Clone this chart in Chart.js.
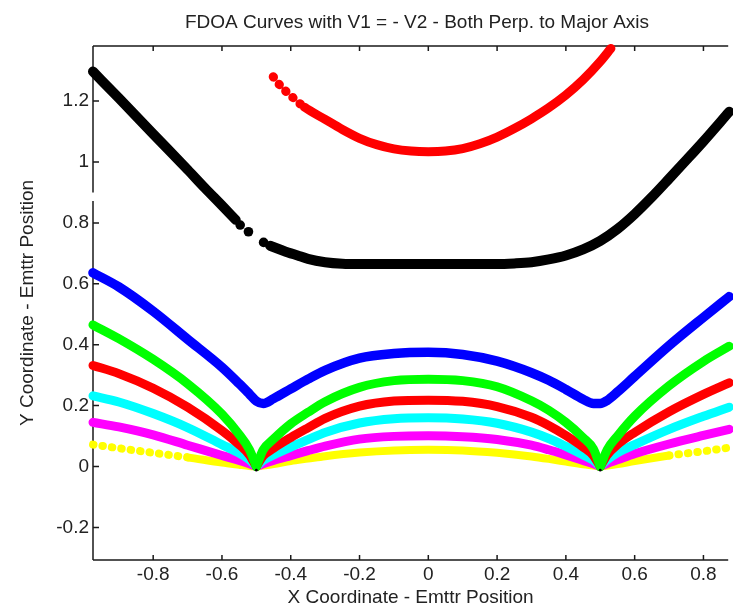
<!DOCTYPE html>
<html>
<head>
<meta charset="utf-8">
<script src="https://cdn.jsdelivr.net/npm/chart.js@4.4.1/dist/chart.umd.min.js"></script>
<style>
  html, body { margin: 0; padding: 0; background: #fff; }
</style>
</head>
<body>
<canvas id="fdoa" width="733" height="611"></canvas>
<script>
const chartTitle = 'FDOA Curves with V1 = - V2 - Both Perp. to Major Axis';
const xTitle = 'X Coordinate - Emttr Position';
const yTitle = 'Y Coordinate - Emttr Position';

const xTickValues = [-0.8, -0.6, -0.4, -0.2, 0, 0.2, 0.4, 0.6, 0.8];
const yTickValues = [-0.2, 0, 0.2, 0.4, 0.6, 0.8, 1, 1.2];

// x positions shared by the six lower curves (cusps at index 7 and 23)
const xLow = [-0.975, -0.9, -0.8, -0.7, -0.6, -0.55, -0.52, -0.5, -0.48, -0.45, -0.4, -0.35, -0.3, -0.2, -0.1,
              0, 0.1, 0.2, 0.3, 0.35, 0.4, 0.45, 0.48, 0.5, 0.52, 0.55, 0.6, 0.7, 0.8, 0.875];
const blueY    = [0.636, 0.59, 0.51, 0.418, 0.326, 0.272, 0.238, 0.215, 0.207, 0.223, 0.255, 0.287, 0.316, 0.356, 0.371,
                  0.375, 0.368, 0.346, 0.308, 0.283, 0.253, 0.221, 0.207, 0.207, 0.217, 0.245, 0.296, 0.397, 0.49, 0.558];
const greenY   = [0.465, 0.42, 0.352, 0.272, 0.172, 0.105, 0.055, 0.0, 0.055, 0.09, 0.14, 0.178, 0.213, 0.26, 0.282,
                  0.287, 0.282, 0.262, 0.216, 0.185, 0.145, 0.095, 0.058, 0.0, 0.055, 0.1, 0.165, 0.265, 0.345, 0.395];
const redY     = [0.332, 0.305, 0.257, 0.195, 0.118, 0.072, 0.038, 0.0, 0.035, 0.06, 0.095, 0.127, 0.158, 0.198, 0.215,
                  0.218, 0.214, 0.197, 0.162, 0.135, 0.102, 0.064, 0.036, 0.0, 0.038, 0.072, 0.112, 0.18, 0.237, 0.275];
const cyanY    = [0.232, 0.212, 0.174, 0.128, 0.072, 0.044, 0.022, 0.0, 0.02, 0.038, 0.064, 0.088, 0.112, 0.143, 0.157,
                  0.16, 0.156, 0.142, 0.113, 0.092, 0.066, 0.038, 0.02, 0.0, 0.022, 0.045, 0.072, 0.122, 0.165, 0.195];
const magentaY = [0.145, 0.13, 0.104, 0.07, 0.036, 0.02, 0.009, 0.0, 0.009, 0.02, 0.036, 0.052, 0.067, 0.09, 0.099,
                  0.101, 0.098, 0.089, 0.07, 0.055, 0.038, 0.02, 0.009, 0.0, 0.01, 0.022, 0.042, 0.074, 0.102, 0.122];
const yellowY  = [0.072, 0.06, 0.045, 0.03, 0.013, 0.006, 0.002, 0.0, 0.003, 0.008, 0.018, 0.026, 0.034, 0.046, 0.053,
                  0.055, 0.053, 0.045, 0.033, 0.025, 0.016, 0.007, 0.003, 0.0, 0.003, 0.008, 0.018, 0.036, 0.05, 0.062];

// black curve: left branch, the sparse dots, then the flat bottom and right branch
const blackLeftX  = [-0.975, -0.9, -0.8, -0.7, -0.65, -0.6, -0.56];
const blackLeftY  = [1.297, 1.21, 1.092, 0.975, 0.915, 0.857, 0.81];
const blackDotX   = [-0.547, -0.523, -0.479];
const blackDotY   = [0.793, 0.771, 0.736];
const blackRightX = [-0.46, -0.42, -0.38, -0.35, -0.3, -0.25, -0.2, 0, 0.2, 0.25, 0.3, 0.35, 0.4, 0.45,
                     0.5, 0.55, 0.6, 0.65, 0.7, 0.75, 0.8, 0.875];
const blackRightY = [0.725, 0.708, 0.693, 0.682, 0.671, 0.666, 0.665, 0.665, 0.665, 0.667, 0.671, 0.68, 0.693, 0.713,
                     0.741, 0.78, 0.829, 0.885, 0.945, 1.006, 1.068, 1.165];

// upper red arc
const redUpX = [-0.451, -0.43, -0.4, -0.36, -0.3, -0.25, -0.2, -0.15, -0.1, -0.05, 0, 0.05, 0.1, 0.15,
                0.2, 0.25, 0.3, 0.35, 0.4, 0.45, 0.5, 0.531];
const redUpY = [1.28, 1.25, 1.218, 1.18, 1.14, 1.107, 1.078, 1.057, 1.043, 1.036, 1.034, 1.036, 1.044, 1.06,
                1.082, 1.11, 1.142, 1.178, 1.22, 1.27, 1.33, 1.373];

const emitterX = [-0.5, 0.5];
const emitterY = [-0.012, -0.012];

const xMin = -0.975, xMax = 0.872;
const yMin = -0.307, yMax = 1.381;
const yBreak = [0.872, 0.9];

const FONT = '"Liberation Sans", Arial, Helvetica, sans-serif';

const pts = (xs, ys) => xs.map((x, i) => ({x, y: ys[i]}));
const fmt = v => String(+Number(v).toFixed(1));

function curve(label, xs, ys, color, width, dotted) {
  return {
    label,
    data: pts(xs, ys),
    showLine: true,
    borderColor: color,
    backgroundColor: color,
    borderWidth: width,
    borderCapStyle: 'round',
    borderJoinStyle: 'round',
    pointRadius: 0,
    cubicInterpolationMode: 'monotone',
    clip: 6,
    segment: {
      borderDash: ctx => (dotted && dotted(xs[ctx.p0DataIndex], xs[ctx.p1DataIndex])) ? [0.5, 9] : undefined
    }
  };
}

// lower curves meet at the two cusps; split there so the V stays sharp
function cusped(label, ys, color, width, dotted) {
  return [[0, 8], [7, 24], [23, xLow.length]].map(([a, b]) =>
    curve(label, xLow.slice(a, b), ys.slice(a, b), color, width, dotted));
}

function dots(label, xs, ys, color, r) {
  return {
    label,
    data: pts(xs, ys),
    showLine: false,
    pointRadius: r,
    pointBorderWidth: 0,
    pointBackgroundColor: color,
    clip: 6
  };
}

// first dataset is drawn on top
const datasets = [
  dots('emitters', emitterX, emitterY, '#000', 1.4),
  ...cusped('green', greenY, '#00ff00', 9),
  ...cusped('red', redY, '#ff0000', 9),
  ...cusped('cyan', cyanY, '#00ffff', 9),
  ...cusped('magenta', magentaY, '#ff00ff', 9),
  ...cusped('yellow', yellowY, '#ffff00', 8, (a, b) => b <= -0.7 || a >= 0.7),
  curve('blue', xLow, blueY, '#0000ff', 9.5),
  curve('black', blackLeftX, blackLeftY, '#000', 10),
  dots('black sparse', blackDotX, blackDotY, '#000', 4.8),
  curve('black', blackRightX, blackRightY, '#000', 10),
  curve('red upper', redUpX, redUpY, '#ff0000', 9, (a, b) => b <= -0.36)
];

const axesFrame = {
  id: 'axesFrame',
  beforeDatasetsDraw(chart) {
    const {ctx, chartArea: a, scales: {x, y}} = chart;
    ctx.save();
    ctx.strokeStyle = '#1a1a1a';
    ctx.lineWidth = 1.5;
    ctx.beginPath();
    ctx.moveTo(a.left, a.top); ctx.lineTo(a.right, a.top);
    ctx.moveTo(a.left, a.bottom); ctx.lineTo(a.right, a.bottom);
    ctx.moveTo(a.left, a.bottom); ctx.lineTo(a.left, y.getPixelForValue(yBreak[0]));
    ctx.moveTo(a.left, y.getPixelForValue(yBreak[1])); ctx.lineTo(a.left, a.top);
    x.ticks.forEach(t => {
      const px = x.getPixelForValue(t.value);
      ctx.moveTo(px, a.bottom); ctx.lineTo(px, a.bottom - 5);
      ctx.moveTo(px, a.top); ctx.lineTo(px, a.top + 5);
    });
    y.ticks.forEach(t => {
      const py = y.getPixelForValue(t.value);
      ctx.moveTo(a.left, py); ctx.lineTo(a.left + 6, py);
    });
    ctx.stroke();
    ctx.restore();
  },
  afterDraw(chart) {
    const {ctx} = chart;
    ctx.save();
    ctx.fillStyle = '#222';
    ctx.font = '19px ' + FONT;
    ctx.textAlign = 'center';
    ctx.textBaseline = 'alphabetic';
    ctx.fillText(chartTitle, 417, 28);
    ctx.restore();
  }
};

Chart.defaults.font.family = FONT;
Chart.defaults.color = '#222';

new Chart(document.getElementById('fdoa'), {
  type: 'scatter',
  data: {datasets},
  options: {
    responsive: false,
    animation: false,
    events: [],
    layout: {padding: {top: 46, right: 0, bottom: 0, left: 0}},
    plugins: {legend: {display: false}, tooltip: {enabled: false}, title: {display: false}},
    scales: {
      x: {
        type: 'linear',
        min: xMin, max: xMax,
        afterBuildTicks: s => { s.ticks = xTickValues.map(v => ({value: v})); },
        afterFit: s => { s.height = 51; },
        grid: {display: false, drawTicks: false},
        border: {display: false},
        ticks: {font: {size: 19}, padding: 3, maxRotation: 0, autoSkip: false, callback: fmt},
        title: {display: true, text: xTitle, font: {size: 19}, padding: {top: 0, bottom: 2}}
      },
      y: {
        type: 'linear',
        min: yMin, max: yMax,
        afterBuildTicks: s => { s.ticks = yTickValues.map(v => ({value: v})); },
        afterFit: s => { s.width = 93; },
        grid: {display: false, drawTicks: false},
        border: {display: false},
        ticks: {font: {size: 19}, padding: 4, autoSkip: false, callback: fmt},
        title: {display: true, text: yTitle, font: {size: 19}, padding: {top: 16, bottom: 0}}
      }
    }
  },
  plugins: [axesFrame]
});
</script>
</body>
</html>
